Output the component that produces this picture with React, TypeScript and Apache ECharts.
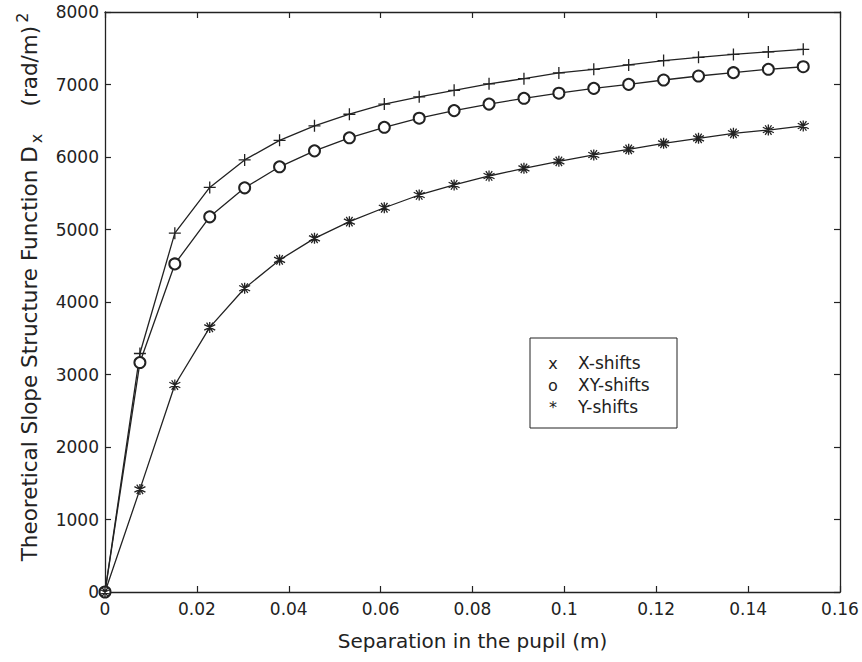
import React, { useEffect, useRef } from "react";
import * as echarts from "echarts";

const separations = [0, 0.0076, 0.0152, 0.0228, 0.0304, 0.038, 0.0456, 0.0532, 0.0608, 0.0684, 0.076, 0.0836, 0.0912, 0.0988, 0.1064, 0.114, 0.1216, 0.1292, 0.1368, 0.1444, 0.152];
const xShifts = [0, 3290, 4950, 5580, 5960, 6230, 6430, 6590, 6730, 6830, 6920, 7010, 7080, 7160, 7210, 7270, 7330, 7375, 7415, 7450, 7485];
const xyShifts = [0, 3165, 4525, 5175, 5575, 5865, 6085, 6265, 6410, 6535, 6640, 6730, 6810, 6880, 6947, 7002, 7062, 7117, 7163, 7210, 7245];
const yShifts = [0, 1415, 2855, 3650, 4190, 4580, 4878, 5108, 5300, 5476, 5614, 5738, 5844, 5940, 6028, 6106, 6189, 6258, 6327, 6372, 6428];
const seriesNames = ["X-shifts", "XY-shifts", "Y-shifts"];
const legendMarks = ["x", "o", "*"];

const INK = "#222";
const FONT = "'DejaVu Sans', Verdana, sans-serif";

const PLUS = "path://M0,-6L0,6M-6,0L6,0";
const STAR = "path://M0,-6L0,6M-5.2,-3L5.2,3M-5.2,3L5.2,-3M-3,-5.2L3,5.2M-3,5.2L3,-5.2";

export default function App() {
  const ref = useRef<HTMLDivElement>(null);
  useEffect(() => {
    if (!ref.current) return;
    const chart = echarts.init(ref.current, null, { renderer: "svg" });
    const pts = (ys: number[]) => separations.map((x, i) => [x, ys[i]]);
    const mkSeries = (name: string, ys: number[], symbol: string, size: number) => ({
      name,
      type: "line",
      xAxisIndex: 0,
      yAxisIndex: 0,
      data: pts(ys),
      symbol,
      symbolSize: size,
      showAllSymbol: true,
      lineStyle: { color: INK, width: 1.3 },
      itemStyle: { color: INK, borderColor: INK, borderWidth: 1.3 },
      emphasis: { disabled: true },
    });
    const axisCommon = {
      axisLine: { show: true, onZero: false, lineStyle: { color: INK, width: 1.3 } },
      axisTick: { show: true, inside: true, length: 6, lineStyle: { color: INK, width: 1.2 } },
      splitLine: { show: false },
    };
    const labelStyle = { color: INK, fontSize: 17, fontFamily: FONT };
    const legendX = 530;
    const legendY = 338;
    chart.setOption({
      animation: false,
      backgroundColor: "#fff",
      grid: { left: 105, right: 22, top: 12, bottom: 70, containLabel: false },
      xAxis: [
        {
          type: "value",
          position: "bottom",
          min: 0,
          max: 0.16,
          interval: 0.02,
          ...axisCommon,
          axisLabel: {
            ...labelStyle,
            margin: 8,
            showMinLabel: true,
            showMaxLabel: true,
            formatter: (v: number) => String(+v.toFixed(2)),
          },
          name: "Separation in the pupil (m)",
          nameLocation: "middle",
          nameGap: 39,
          nameTextStyle: { color: INK, fontSize: 20, fontFamily: FONT },
        },
        {
          type: "value",
          position: "top",
          min: 0,
          max: 0.16,
          interval: 0.02,
          ...axisCommon,
          axisLabel: { show: false },
        },
      ],
      yAxis: [
        {
          type: "value",
          position: "left",
          min: 0,
          max: 8000,
          interval: 1000,
          ...axisCommon,
          axisLabel: {
            ...labelStyle,
            margin: 6,
            showMinLabel: true,
            showMaxLabel: true,
            formatter: (v: number) => String(v),
          },
        },
        {
          type: "value",
          position: "right",
          min: 0,
          max: 8000,
          interval: 1000,
          ...axisCommon,
          axisLabel: { show: false },
        },
      ],
      series: [
        mkSeries(seriesNames[0], xShifts, PLUS, 12),
        mkSeries(seriesNames[1], xyShifts, "emptyCircle", 11),
        mkSeries(seriesNames[2], yShifts, STAR, 11),
      ],
      graphic: [
        {
          type: "text",
          x: 29,
          y: 287,
          rotation: Math.PI / 2,
          style: {
            text: "Theoretical Slope Structure Function D{s|x}    (rad/m){p|2}",
            fill: INK,
            font: `21.5px ${FONT}`,
            align: "center",
            verticalAlign: "middle",
            rich: {
              s: { fontSize: 16, fontFamily: FONT, fill: INK, padding: [14, 0, 0, 3] },
              p: { fontSize: 16, fontFamily: FONT, fill: INK, padding: [0, 0, 14, 3] },
            },
          },
        },
        {
          type: "rect",
          shape: { x: legendX, y: legendY, width: 147, height: 90 },
          style: { fill: "#fff", stroke: INK, lineWidth: 1 },
          z: 10,
        },
        ...seriesNames.flatMap((n, i) => [
          {
            type: "text",
            x: legendX + 23,
            y: legendY + 25 + i * 22,
            z: 11,
            style: { text: legendMarks[i], fill: INK, font: `16px ${FONT}`, align: "center", verticalAlign: "middle" },
          },
          {
            type: "text",
            x: legendX + 48,
            y: legendY + 25 + i * 22,
            z: 11,
            style: { text: n, fill: INK, font: `17px ${FONT}`, align: "left", verticalAlign: "middle" },
          },
        ]),
      ],
    });
    return () => chart.dispose();
  }, []);
  return <div ref={ref} style={{ position: "absolute", left: 0, top: 0, width: 862, height: 662, background: "#fff" }} />;
}
